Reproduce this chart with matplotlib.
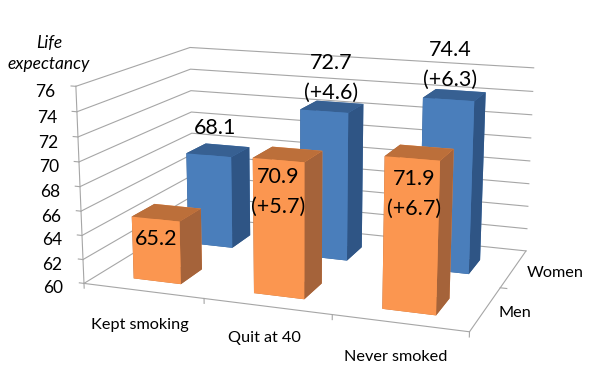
import numpy as np
import matplotlib
matplotlib.use('Agg')
import matplotlib.pyplot as plt

categories = ['Kept smoking', 'Quit at 40', 'Never smoked']
series = ['Men', 'Women']
men = [65.2, 70.9, 71.9]
women = [68.1, 72.7, 74.4]
men_labels = ['65.2', '70.9\n(+5.7)', '71.9\n(+6.7)']
women_labels = ['68.1', '72.7\n(+4.6)', '74.4\n(+6.3)']
z_ticks = [60, 62, 64, 66, 68, 70, 72, 74, 76]

W, H = 595, 390
plt.rcParams['font.family'] = 'Lato'


def put(x, y, s, size=11, **kw):
    # x, y in pixels from the top left of the picture
    kw.setdefault('ha', 'center')
    kw.setdefault('va', 'center')
    fig.text(x / W, 1 - y / H, s, fontsize=size, color='black', **kw)


fig = plt.figure(figsize=(W / 100, H / 100), dpi=100)
L, tx, ty = 250.91, 310.32, 176.68
ax = fig.add_axes([(tx - L / 2) / W, (H - ty - L / 2) / H, L / W, L / H], projection='3d', computed_zorder=False)
ax.set_xlim(0, 3)
ax.set_ylim(0, 2)
ax.set_zlim(60, 76)
ax.set_axis_off()
ax.set_proj_type('persp', focal_length=1)
ax.view_init(elev=14.085, azim=-70.221, roll=-0.125)
ax.set_box_aspect((1.970, 1.304, 1), zoom=1.942)

# walls and floor
grid = '#a6a6a6'
lines = []
for v in z_ticks:
    lines += ax.plot([0, 0, 3], [0, 2, 2], [v, v, v], color=grid, lw=0.8, zorder=1)
    lines += ax.plot([-0.04, 0], [0, 0], [v, v], color=grid, lw=0.8, zorder=1)
lines += ax.plot([0, 0], [0, 0], [60, 76], color=grid, lw=0.8, zorder=1)
lines += ax.plot([0, 3, 3], [0, 0, 2], [60, 60, 60], color=grid, lw=0.8, zorder=1)
for i in range(4):
    lines += ax.plot([i, i], [0, 0], [60, 59.6], color=grid, lw=0.8, zorder=1)
lines += ax.plot([3, 3.05], [1, 1], [60, 60], color=grid, lw=0.8, zorder=1)
for ln in lines:
    ln.set_clip_on(False)

x_pos = np.arange(3) + 0.30
rows = [(women, 1.24, ('#4a7ebb', '#2f5585', '#376092')), (men, 0.24, ('#fb9650', '#a5633a', '#bc6f3a'))]
for n, (vals, y0, (front, side, top)) in enumerate(rows):
    for i, v in enumerate(vals):
        bar = ax.bar3d(x_pos[i], y0, 60, 0.40, 0.39, v - 60, color=[top, top, front, front, side, side],
                       shade=False, linewidth=0, zorder=3 + n)
        bar.set_clip_on(False)

# text
put(49, 43, 'Life', 12.5, style='italic')
put(49, 64, 'expectancy', 12.5, style='italic')
tick_right = [63, 62.5, 62, 61.5, 60.5, 59.5, 58.5, 57, 55.5]
tick_y = [288, 265, 240, 217, 192, 167, 143, 118, 92]
for v, xr, yy in zip(z_ticks, tick_right, tick_y):
    put(xr, yy, str(v), 12.5, ha='right')
for s, xx, yy in zip(categories, [140, 264, 396], [325, 338, 357]):
    put(xx, yy, s, 11.7)
for s, xx, yy in zip(series, [515, 555], [313, 273]):
    put(xx, yy, s, 11.7)
label_x = [[156, 278, 414], [215, 331, 450]]
label_y = [[239, 192, 194], [128, 78, 65]]
for lab, xs, ys in zip([men_labels, women_labels], label_x, label_y):
    for s, xx, yy in zip(lab, xs, ys):
        put(xx, yy, s, 15.5, linespacing=1.58)

fig.savefig('out.png', dpi=100)
